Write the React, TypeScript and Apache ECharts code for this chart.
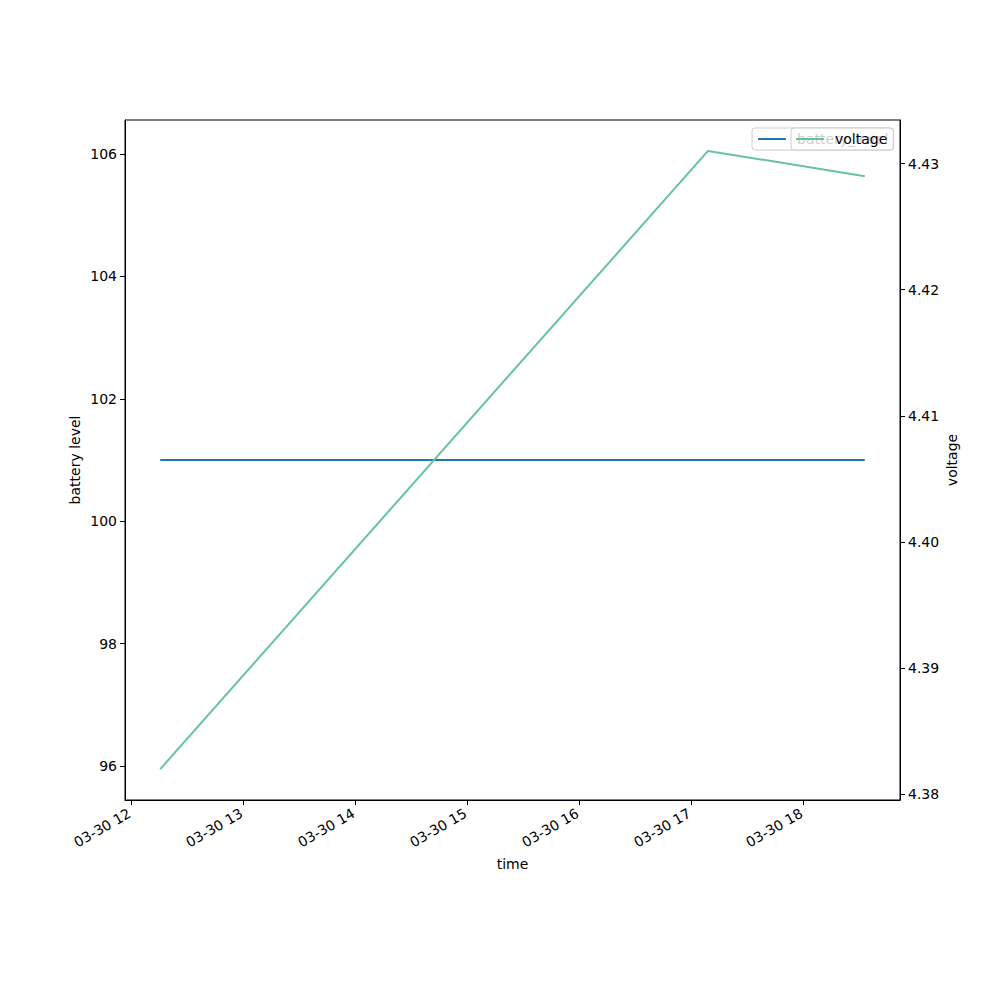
import React, { useEffect, useRef } from "react";
import * as echarts from "echarts";

const times = ["12:15.5", "17:09", "18:33"];
const batteryLevel = [101, 101, 101];
const voltage = [4.382, 4.431, 4.429];
const xTickHours = [12, 13, 14, 15, 16, 17, 18];
const leftTicks = [96, 98, 100, 102, 104, 106];
const rightTicks = [4.38, 4.39, 4.4, 4.41, 4.42, 4.43];
const datePrefix = "03-30";

const toHours = (t: string) => {
  const [h, m] = t.split(":");
  return Number(h) + Number(m) / 60;
};

export default function App() {
  const ref = useRef<HTMLDivElement>(null);
  useEffect(() => {
    const chart = echarts.init(ref.current!, undefined, { renderer: "svg" });
    const font = "DejaVu Sans";
    const hrs = times.map(toHours);
    const xMin = hrs[0] - (hrs[hrs.length - 1] - hrs[0]) * 0.05;
    const xMax = hrs[hrs.length - 1] + (hrs[hrs.length - 1] - hrs[0]) * 0.05;
    const vMin = Math.min(...voltage), vMax = Math.max(...voltage);
    const vPad = (vMax - vMin) * 0.05;
    chart.setOption({
      animation: false,
      textStyle: { fontFamily: font },
      grid: { left: 125, right: 100, top: 120, bottom: 200, show: true, borderColor: "#000", borderWidth: 1 },
      legend: [
        {
          data: [{ name: "battery_level", icon: "rect" }],
          left: 752, top: 128, z: 4,
          itemWidth: 28, itemHeight: 2,
          padding: [4, 5, 4, 6],
          backgroundColor: "#fff", borderColor: "#ccc", borderWidth: 1, borderRadius: 3,
          textStyle: { fontSize: 14, color: "#000", fontFamily: font, padding: [0, 0, 0, 6] },
        },
        {
          data: [{ name: "voltage", icon: "rect" }],
          left: 791, top: 128, z: 5,
          itemWidth: 28, itemHeight: 2,
          padding: [4, 6, 4, 5],
          backgroundColor: "rgba(255,255,255,0.8)", borderColor: "#ccc", borderWidth: 1, borderRadius: 3,
          textStyle: { fontSize: 14, color: "#000", fontFamily: font, padding: [0, 0, 0, 6] },
        },
      ],
      xAxis: {
        type: "value",
        min: xMin,
        max: xMax,
        name: "time",
        nameLocation: "middle",
        nameGap: 57,
        nameMoveOverlap: false,
        nameTextStyle: { fontSize: 14, color: "#000", fontFamily: font },
        splitLine: { show: false },
        axisLine: { lineStyle: { color: "#000" } },
        axisTick: { customValues: xTickHours, length: 5, lineStyle: { color: "#000" } },
        axisLabel: {
          customValues: xTickHours,
          rotate: 30,
          margin: 11,
          padding: [0, 2, 0, 0],
          fontSize: 14,
          color: "#000",
          fontFamily: font,
          formatter: (v: number) => `${datePrefix} ${Math.round(v)}`,
        },
      },
      yAxis: [
        {
          type: "value",
          min: 95.445,
          max: 106.555,
          name: "battery level",
          nameLocation: "middle",
          nameGap: 43,
          nameMoveOverlap: false,
          nameTextStyle: { fontSize: 14, color: "#000", fontFamily: font },
          splitLine: { show: false },
          axisLine: { show: true, lineStyle: { color: "#000" } },
          axisTick: { show: true, customValues: leftTicks, length: 5, lineStyle: { color: "#000" } },
          axisLabel: { customValues: leftTicks, margin: 8, fontSize: 14, color: "#000", fontFamily: font },
        },
        {
          type: "value",
          position: "right",
          min: vMin - vPad,
          max: vMax + vPad,
          name: "voltage",
          nameLocation: "middle",
          nameGap: 45,
          nameMoveOverlap: false,
          nameRotate: 90,
          nameTextStyle: { fontSize: 14, color: "#000", fontFamily: font },
          splitLine: { show: false },
          axisLine: { show: true, lineStyle: { color: "#000" } },
          axisTick: { show: true, customValues: rightTicks, length: 5, lineStyle: { color: "#000" } },
          axisLabel: {
            customValues: rightTicks,
            margin: 8,
            fontSize: 14,
            color: "#000",
            fontFamily: font,
            formatter: (v: number) => v.toFixed(2),
          },
        },
      ],
      series: [
        {
          name: "battery_level",
          type: "line",
          yAxisIndex: 0,
          showSymbol: false,
          color: "#1f77b4",
          lineStyle: { width: 2, color: "#1f77b4" },
          data: hrs.map((h, i) => [h, batteryLevel[i]]),
        },
        {
          name: "voltage",
          type: "line",
          yAxisIndex: 1,
          showSymbol: false,
          color: "#66c2a5",
          lineStyle: { width: 2, color: "#66c2a5" },
          data: hrs.map((h, i) => [h, voltage[i]]),
        },
      ],
    });
    return () => chart.dispose();
  }, []);
  return <div ref={ref} style={{ position: "fixed", left: 0, top: 0, width: 1000, height: 1000, background: "#fff" }} />;
}
